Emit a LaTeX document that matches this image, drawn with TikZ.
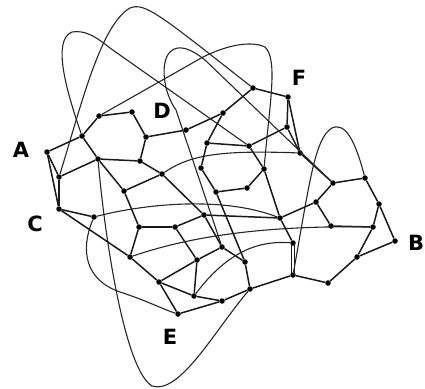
\documentclass[tikz,border=0pt]{standalone}
\usepackage{fontspec}
\setsansfont{DejaVu Sans}
\usetikzlibrary{calc}
\tikzset{
  v/.style={circle,fill=black,inner sep=0pt,minimum size=5.5pt},
  e/.style={line width=1.5pt,draw=black!90},
  loop/.style={line width=1.1pt,draw=black!85},
  lbl/.style={font=\sffamily\bfseries\fontsize{21}{21}\selectfont,inner sep=0pt},
}
\begin{document}
\begin{tikzpicture}[x=1pt,y=-1pt]
  \useasboundingbox (0,0) rectangle (425,388);
  % vertices
  \foreach \n/\p in {a/{47,152},v2/{99,116},v3/{132,112},v4/{82,136},v5/{146,137},
    v6/{98,159},v7/{140,161},v8/{59,177},v9/{162,174},v10/{124,191},d/{186,130},
    v12/{207,143},v13/{201,168},v14/{253,88},f/{288,97},v16/{223,113},v17/{287,127},
    v18/{249,146},v19/{300,153},v20/{264,169},v21/{333,183},v22/{365,178},v23/{247,188},
    c/{59,209},v25/{94,217},v26/{139,227},v27/{175,227},v28/{204,215},v29/{130,257},
    v30/{197,260},v31/{159,282},v32/{194,296},e/{178,314},v34/{316,202},v35/{379,204},
    v36/{280,218},v37/{331,226},v38/{373,227},b/{395,241},v40/{293,243},v41/{222,247},
    v42/{357,257},v43/{245,262},v44/{293,275},v45/{328,283},v46/{250,289},v47/{222,301},
    v49/{216,192}}
    \node[v] (\n) at (\p) {};
  % labels
  \node[lbl] (la) at (21,150) {A};
  \node[lbl] (lb) at (416,243) {B};
  \node[lbl] (lc) at (35,224) {C};
  \node[lbl] (ld) at (162,111) {D};
  \node[lbl] (le) at (170,337) {E};
  \node[lbl] (lf) at (299,78) {F};
  % short edges
  \foreach \s/\t in {a/v4,a/v8,a/c,v8/c,v8/v6,v2/v3,v2/v4,v3/v5,v4/v6,v6/v7,v5/v7,
    v6/v10,v7/v9,v9/v10,v5/d,c/v25,c/v29,v9/v28,v10/v26,d/v16,v16/v14,v14/f,f/v17,
    f/v19,v17/v19,v17/v18,v16/v12,v12/v18,v12/v13,v13/v49,v49/v23,v18/v20,
    v20/v23,v20/v36,v19/v21,v21/v22,v21/v34,v34/v36,v34/v37,v37/v38,v38/v35,v35/v22,
    v35/b,v38/v42,v42/b,v42/v45,v45/v44,v36/v40,v44/v46,v46/v47,v46/v43,v43/v49,
    v43/v41,v28/v41,v26/v27,v27/v28,v26/v29,v27/v30,v30/v41,v30/v31,v30/v32,v29/v31,
    v31/e,v31/v32,v32/v47,e/v47,v28/v36}
    \draw[e] (\s) -- (\t);
  \draw[e] ([xshift=-1.3pt]v40.center) -- ([xshift=-1.3pt]v44.center);
  \draw[e] ([xshift=1.3pt]v40.center) -- ([xshift=1.3pt]v44.center);
  % long curves
  \draw[loop] (v4) .. controls (66,90) and (52,40) .. (72,32)
    .. controls (85,30) and (95,36) .. (110,48) -- (v18);
  \draw[loop] (v8) .. controls (80,110) and (100,25) .. (130,8)
    .. controls (145,2) and (160,15) .. (v14);
  \draw[loop] (v2) -- (203,57) .. controls (225,46) and (250,40) .. (265,47)
    .. controls (278,60) and (270,100) .. (v20);
  \draw[loop] (v41) -- (176,110) .. controls (163,92) and (160,62) .. (170,52)
    .. controls (178,44) and (190,48) .. (205,60) -- (v21);
  \draw[loop] (v22) .. controls (355,140) and (345,122) .. (332,128)
    .. controls (315,138) and (310,180) .. (v44);
  \draw[loop] (v6) .. controls (105,240) and (125,370) .. (152,386)
    .. controls (180,395) and (215,330) .. (v46);
  \draw[loop] (v25) .. controls (80,250) and (85,280) .. (120,292)
    .. controls (145,300) and (165,310) .. (e);
  \draw[loop] (v25) .. controls (140,205) and (220,195) .. (v36);
  \draw[loop] (v29) .. controls (180,240) and (250,225) .. (v38);
  \draw[loop] (v32) .. controls (225,255) and (255,240) .. (v40);
  \draw[loop] (v9) .. controls (190,155) and (220,150) .. (v19);
\end{tikzpicture}
\end{document}
